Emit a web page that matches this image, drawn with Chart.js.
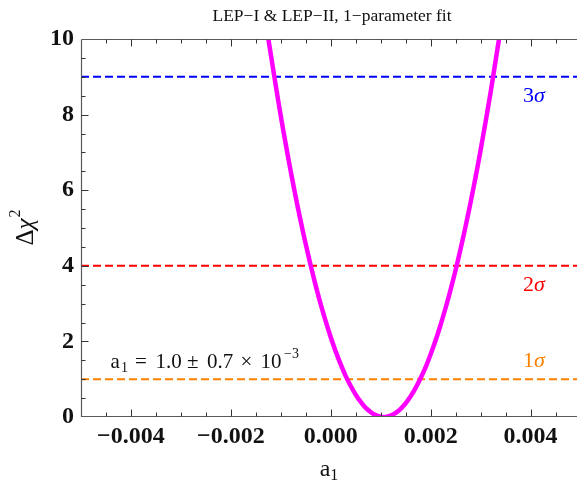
<!DOCTYPE html>
<html>
<head>
<meta charset="utf-8">
<script src="https://cdn.jsdelivr.net/npm/chart.js@4.4.1/dist/chart.umd.min.js"></script>
<style>
  html, body { margin: 0; padding: 0; background: #fff; overflow: hidden; }
  #wrap { position: relative; width: 577px; height: 481px; }
</style>
</head>
<body>
<div id="wrap"><canvas id="c" width="577" height="481"></canvas></div>
<script>
// ---- data ----
const curveX = [-0.00125, -0.0011, -0.0010, -0.0009, -0.0008, -0.0007, -0.0006, -0.0005, -0.0004, -0.0003,
  -0.0002, -0.0001, 0.0000, 0.0001, 0.0002, 0.0003, 0.0004, 0.0005, 0.0006, 0.0007, 0.0008, 0.0009,
  0.0010, 0.00106, 0.0011, 0.0012, 0.0013, 0.0014, 0.0015, 0.0016, 0.0017, 0.0018, 0.0019, 0.0020,
  0.0021, 0.0022, 0.0023, 0.0024, 0.0025, 0.0026, 0.0027, 0.0028, 0.0029, 0.0030, 0.0031, 0.0032,
  0.0033, 0.00337];
const curveY = [10.01, 8.76, 7.96, 7.21, 6.49, 5.81, 5.17, 4.57, 4.00, 3.47,
  2.98, 2.53, 2.11, 1.73, 1.39, 1.08, 0.82, 0.59, 0.40, 0.24, 0.13, 0.05,
  0.007, 0.0, 0.003, 0.037, 0.108, 0.217, 0.363, 0.547, 0.769, 1.03, 1.32, 1.66,
  2.03, 2.44, 2.89, 3.37, 3.89, 4.45, 5.05, 5.68, 6.35, 7.06, 7.81, 8.59,
  9.42, 10.01];
const sigmaLevels = [1, 4, 9];
const sigmaLabels = ['1', '2', '3'];
const sigmaColors = ['#ff8000', '#ff0000', '#0000ff'];
const xMajorTicks = [-0.004, -0.002, 0.000, 0.002, 0.004];
const yMajorTicks = [0, 2, 4, 6, 8, 10];
const xRange = [-0.005, 0.00493];
const yRange = [0, 10];
const titleText = 'LEP\u2212I & LEP\u2212II, 1\u2212parameter fit';
// pieces of the fit result: [text, font size, x offset from start, baseline shift]
const fitPieces = [
  ['a', 21, 0, 0], ['1', 14, 10.5, 4], ['=', 21, 24.5, 0], ['1.0', 21, 45, 0],
  ['\u00b1', 21, 76.5, 0], ['0.7', 21, 96.5, 0], ['\u00d7', 21, 130, 0],
  ['10', 21, 150, 0], ['\u22123', 14, 173.5, -10]
];

const SERIF = '"Liberation Serif", "DejaVu Serif", serif';

const curveData = curveX.map((x, i) => ({ x: x, y: curveY[i] }));

const datasets = [{
  data: curveData,
  showLine: true,
  borderColor: '#ff00ff',
  borderWidth: 4.5,
  pointRadius: 0,
  tension: 0.3,
  fill: false
}];
sigmaLevels.forEach((lv, i) => {
  datasets.push({
    data: [{ x: xRange[0], y: lv }, { x: xRange[1], y: lv }],
    showLine: true,
    borderColor: sigmaColors[i],
    borderWidth: 2,
    borderDash: [8, 4],
    pointRadius: 0,
    fill: false
  });
});

function fmtX(v) {
  const s = Math.abs(v).toFixed(3);
  return (v < -1e-12 ? '\u2212' : '') + s;
}

const framePlugin = {
  id: 'frame',
  afterDatasetsDraw(chart) {
    const { ctx, chartArea: a, scales } = chart;
    const xs = scales.x, ys = scales.y;
    ctx.save();
    ctx.strokeStyle = '#5a5a5a';
    ctx.lineWidth = 1.2;
    const L = Math.round(a.left) + 0.5, B = Math.round(a.bottom) - 0.5, T = Math.round(a.top) + 0.5;
    ctx.beginPath();
    ctx.moveTo(L, T); ctx.lineTo(L, B); ctx.lineTo(a.right + 2, B);
    ctx.moveTo(L, T); ctx.lineTo(a.right + 2, T);
    ctx.stroke();
    ctx.lineWidth = 1;
    ctx.strokeStyle = '#333';
    // x ticks (minor every 0.0005)
    for (let k = -10; k <= 10; k++) {
      const v = k * 0.0005;
      if (v < xRange[0] + 1e-9 || v > xRange[1]) continue;
      const major = xMajorTicks.some(m => Math.abs(m - v) < 1e-9);
      const len = major ? 7 : 4;
      const px = Math.round(xs.getPixelForValue(v)) + 0.5;
      ctx.beginPath();
      ctx.moveTo(px, B); ctx.lineTo(px, B - len);
      ctx.moveTo(px, T); ctx.lineTo(px, T + len);
      ctx.stroke();
    }
    // y ticks (minor every 0.5)
    for (let k = 1; k < 20; k++) {
      const v = k * 0.5;
      const major = yMajorTicks.includes(v);
      const len = major ? 7 : 4;
      const py = Math.round(ys.getPixelForValue(v)) + 0.5;
      ctx.beginPath();
      ctx.moveTo(L, py); ctx.lineTo(L + len, py);
      ctx.stroke();
    }
    ctx.restore();
  },
  afterDraw(chart) {
    const { ctx, chartArea: a, scales } = chart;
    const ys = scales.y;
    ctx.save();
    ctx.fillStyle = '#111';
    ctx.textBaseline = 'alphabetic';
    // title
    ctx.font = '17.5px ' + SERIF;
    ctx.textAlign = 'center';
    ctx.fillText(titleText, 332, 21);
    // x axis title a1
    ctx.textAlign = 'left';
    ctx.font = '24px ' + SERIF;
    const aw = ctx.measureText('a').width;
    ctx.font = '16px ' + SERIF;
    const sw = ctx.measureText('1').width;
    let x0 = (a.left + a.right) / 2 - (aw + sw) / 2;
    ctx.font = '24px ' + SERIF;
    ctx.fillText('a', x0, 476);
    ctx.font = '16px ' + SERIF;
    ctx.fillText('1', x0 + aw, 480);
    // y axis title
    ctx.save();
    ctx.translate(25, (a.top + a.bottom) / 2);
    ctx.rotate(-Math.PI / 2);
    ctx.font = '25px ' + SERIF;
    const dw = ctx.measureText('\u0394').width;
    ctx.font = 'italic 25px ' + SERIF;
    const cw = ctx.measureText('\u03c7').width;
    ctx.font = '16px ' + SERIF;
    const tw = ctx.measureText('2').width;
    let yx = -(dw + cw + tw) / 2;
    ctx.font = '25px ' + SERIF;
    ctx.fillText('\u0394', yx, 8);
    ctx.font = 'italic 25px ' + SERIF;
    ctx.fillText('\u03c7', yx + dw, 8);
    ctx.font = '16px ' + SERIF;
    ctx.fillText('2', yx + dw + cw + 1, -5);
    ctx.restore();
    // sigma labels
    sigmaLevels.forEach((lv, i) => {
      const py = ys.getPixelForValue(lv);
      ctx.fillStyle = sigmaColors[i];
      ctx.font = '22px ' + SERIF;
      const nw = ctx.measureText(sigmaLabels[i]).width;
      ctx.font = 'italic 22px ' + SERIF;
      const gw = ctx.measureText('\u03c3').width;
      const cx = 534 - (nw + gw) / 2;
      const by = lv === 1 ? py - 12 : py + 25;
      ctx.font = '22px ' + SERIF;
      ctx.fillText(sigmaLabels[i], cx, by);
      ctx.font = 'italic 22px ' + SERIF;
      ctx.fillText('\u03c3', cx + nw, by);
    });
    // fit result
    ctx.fillStyle = '#111';
    const fx = 110.5, fy = 368;
    fitPieces.forEach(p => {
      ctx.font = p[1] + 'px ' + SERIF;
      ctx.fillText(p[0], fx + p[2], fy + p[3]);
    });
    ctx.restore();
  }
};

new Chart(document.getElementById('c'), {
  type: 'scatter',
  data: { datasets: datasets },
  options: {
    responsive: false,
    animation: false,
    devicePixelRatio: 1,
    layout: { padding: { top: 39, right: 0, bottom: 0, left: 0 } },
    plugins: { legend: { display: false }, tooltip: { enabled: false }, title: { display: false } },
    scales: {
      x: {
        type: 'linear',
        min: xRange[0], max: xRange[1],
        afterBuildTicks: s => { s.ticks = xMajorTicks.map(v => ({ value: v })); },
        afterFit: s => { s.height = 64; },
        border: { display: false },
        grid: { display: false, drawTicks: false },
        ticks: {
          callback: v => fmtX(v),
          color: '#111',
          padding: 5,
          maxRotation: 0,
          autoSkip: false,
          font: { family: SERIF, size: 24, weight: 'bold' }
        }
      },
      y: {
        type: 'linear',
        min: yRange[0], max: yRange[1],
        afterBuildTicks: s => { s.ticks = yMajorTicks.map(v => ({ value: v })); },
        afterFit: s => { s.width = 81; },
        border: { display: false },
        grid: { display: false, drawTicks: false },
        ticks: {
          callback: v => String(v),
          color: '#111',
          padding: 7,
          font: { family: SERIF, size: 24, weight: 'bold' }
        }
      }
    }
  },
  plugins: [framePlugin]
});
</script>
</body>
</html>
